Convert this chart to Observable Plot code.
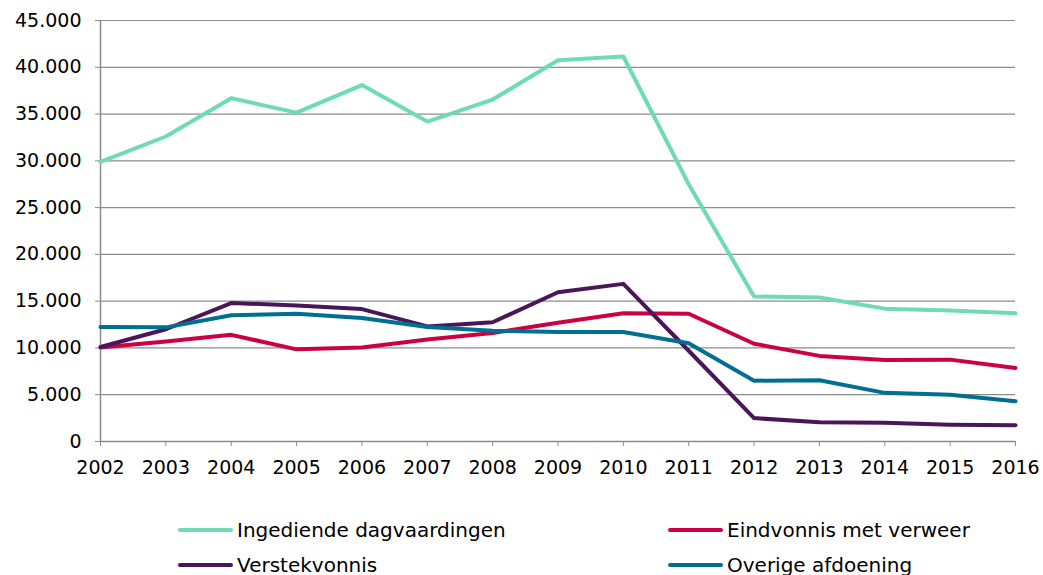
<!DOCTYPE html>
<html>
<head>
<meta charset="utf-8">
<script src="https://cdn.jsdelivr.net/npm/d3@7"></script>
<script src="https://cdn.jsdelivr.net/npm/@observablehq/plot@0.6"></script>
<style>
  body { margin: 0; background: #fff; font-family: "DejaVu Sans", Verdana, sans-serif; }
  #wrap { position: relative; width: 1043px; height: 575px; }
  .legend { position: absolute; left: 0; top: 0; width: 1043px; font-size: 20px; color: #000; }
  .item { position: absolute; display: flex; align-items: center; white-space: nowrap; height: 24px; }
  .sw { display: inline-block; width: 55px; height: 4px; margin-right: 4px; border-radius: 2px; }
</style>
</head>
<body>
<div id="wrap"></div>
<script>
const years = [2002,2003,2004,2005,2006,2007,2008,2009,2010,2011,2012,2013,2014,2015,2016];
const seriesNames = ["Ingediende dagvaardingen","Eindvonnis met verweer","Verstekvonnis","Overige afdoening"];
const seriesColors = ["#6fdcb0","#cc0044","#4b1658","#006f91"];
const ingediende = [29900,32600,36700,35150,38100,34200,36550,40750,41150,27500,15500,15400,14200,14000,13700];
const eindvonnis = [10050,10700,11400,9850,10050,10900,11600,12700,13700,13650,10450,9150,8700,8750,7850];
const verstek = [10100,12000,14800,14550,14150,12300,12750,15950,16850,9700,2500,2050,2000,1800,1750];
const overige = [12250,12200,13500,13650,13200,12250,11850,11700,11700,10500,6500,6550,5200,5000,4300];
const yTicks = [0,5000,10000,15000,20000,25000,30000,35000,40000,45000];

const allSeries = [ingediende, eindvonnis, verstek, overige];
const data = [];
allSeries.forEach((vals, i) => vals.forEach((v, j) => data.push({year: years[j], value: v, series: seriesNames[i]})));

const nl = d3.formatLocale({decimal: ",", thousands: ".", grouping: [3], currency: ["€", ""]});
const fmt = nl.format(",");

const chart = Plot.plot({
  width: 1043,
  height: 495,
  marginLeft: 100,
  marginRight: 28,
  marginTop: 20,
  marginBottom: 54,
  style: {fontFamily: "'DejaVu Sans', Verdana, sans-serif", fontSize: "19px", color: "#000", background: "#fff"},
  x: {domain: [2002, 2016], label: null},
  y: {domain: [0, 45000], label: null},
  color: {domain: seriesNames, range: seriesColors},
  marks: [
    Plot.ruleY(yTicks.filter(d => d > 0), {stroke: "#8c8c8c", strokeWidth: 1.2, strokeOpacity: 1}),
    Plot.ruleY([0], {stroke: "#8c8c8c", strokeWidth: 1.5}),
    Plot.ruleX([2002], {stroke: "#8c8c8c", strokeWidth: 1.5}),
    Plot.axisX({ticks: years, tickFormat: d => String(d), tickSize: 5, tickPadding: 14, stroke: "#8c8c8c", strokeOpacity: 1, fill: "#000", label: null}),
    Plot.axisY({ticks: yTicks, tickFormat: fmt, tickSize: 5, tickPadding: 14, stroke: "#8c8c8c", strokeOpacity: 1, fill: "#000", label: null}),
    Plot.line(data, {x: "year", y: "value", z: "series", stroke: "series", strokeWidth: 4, strokeLinejoin: "round", strokeLinecap: "round"})
  ]
});

const wrap = document.getElementById("wrap");
wrap.appendChild(chart);

const legend = document.createElement("div");
legend.className = "legend";
const pos = [[178, 530], [668, 530], [178, 565], [668, 565]];
[0, 1, 2, 3].forEach((i, k) => {
  const it = document.createElement("div");
  it.className = "item";
  it.style.left = pos[k][0] + "px";
  it.style.top = (pos[k][1] - 12) + "px";
  const sw = document.createElement("span");
  sw.className = "sw";
  sw.style.background = seriesColors[i];
  const t = document.createElement("span");
  t.textContent = seriesNames[i];
  it.appendChild(sw);
  it.appendChild(t);
  legend.appendChild(it);
});
wrap.appendChild(legend);
</script>
</body>
</html>
